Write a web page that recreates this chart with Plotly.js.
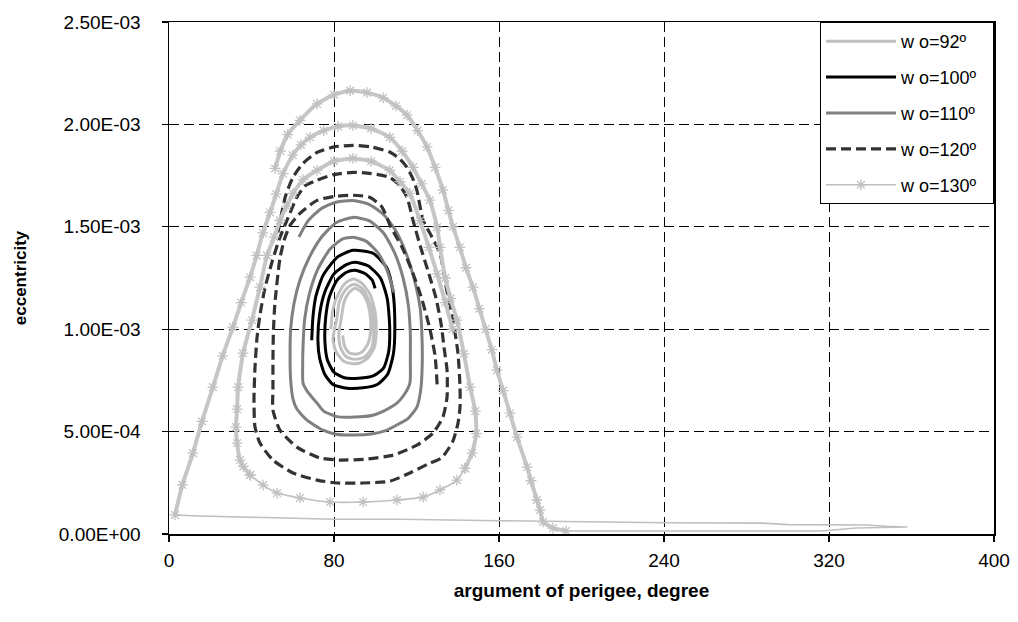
<!DOCTYPE html>
<html><head><meta charset="utf-8">
<script src="https://cdn.plot.ly/plotly-3.0.1.min.js"></script>
<style>html,body{margin:0;padding:0;background:#fff}#chart{width:1018px;height:622px}</style>
</head><body><div id="chart"></div>
<script>
// eccentricity values are written in units of 1e-3
const E_UNIT = 1e-3;

// argument of perigee ticks
const xTicks = [0, 80, 160, 240, 320, 400];
const yTickVals = [0, 5e-4, 1e-3, 1.5e-3, 2e-3, 2.5e-3];
const yTickText = ['0.00E+00', '5.00E-04', '1.00E-03', '1.50E-03', '2.00E-03', '2.50E-03'];
const seriesNames = ['w o=92º', 'w o=100º', 'w o=110º', 'w o=120º', 'w o=130º'];

// wo = 92
const w92 = [78.5,79.5,82.5,86,89.5,93.5,97.5,100,100.5,99.5,96.5,92.5,88.5,84.5,81,79.5,
  81.5,82.5,85,87.5,90,93.5,96.5,98.8,99.3,98.3,95.5,92,88.5,85.5,83.2,82.3,
  83.8,84.8,87,90,93,95.8,97.5,97.8,96.5,93.8,90.5,87.3,85.2,84.2];
const e92 = [1.00,1.10,1.18,1.23,1.245,1.225,1.17,1.08,0.99,0.91,0.86,0.835,0.832,0.845,0.89,0.95,
  1.06,1.13,1.185,1.21,1.22,1.20,1.15,1.07,0.98,0.91,0.87,0.855,0.855,0.87,0.91,0.97,
  1.07,1.13,1.175,1.20,1.185,1.14,1.07,0.99,0.93,0.89,0.878,0.885,0.915,0.97];

// wo = 100
const w100 = [69.2,69.8,71.2,74.7,81.5,89.2,98.9,105.7,108.6,109.5,108.8,106,101,94,86.3,79.5,75.5,73,72.2,
  73,75.5,80,86,90,96.5,102.5,105.8,107,106.5,104,99,92,85,80,76.8,75.6,
  76,77.8,81.5,86,90,95,98.5,99.9];
const e100 = [0.946,1.06,1.16,1.263,1.351,1.385,1.371,1.298,1.18,1.02,0.88,0.78,0.73,0.714,0.712,0.73,0.78,0.86,0.946,
  1.07,1.18,1.27,1.315,1.327,1.31,1.25,1.15,1.01,0.89,0.81,0.772,0.761,0.763,0.79,0.85,0.94,
  1.06,1.16,1.24,1.278,1.288,1.272,1.24,1.199];

// wo = 110
const w110 = [63,67.5,74,81,89.2,97,104,110,115,119,121.8,122.7,122.7,122,120.2,116,112,105,98.9,90,
  81,74.7,66.9,62,60.1,59,58.7,59,60.5,63.5,68,74,81,89.2,97,104,109.5,113.5,116,117,
  117,116.8,114,110.5,104,98.9,90,81.5,75,71.8,67.5,65,64.8,65,65.8,68,72,78,84,89.2,
  95.5,101.5,106,109];
const e110 = [1.45,1.53,1.59,1.62,1.628,1.61,1.56,1.48,1.37,1.24,1.10,0.95,0.80,0.70,0.62,0.565,0.541,0.505,0.49,0.483,
  0.487,0.507,0.556,0.61,0.66,0.75,0.87,1.0,1.12,1.24,1.35,1.45,1.52,1.546,1.53,1.47,1.37,1.25,1.12,0.98,
  0.85,0.737,0.68,0.639,0.60,0.58,0.571,0.573,0.60,0.639,0.69,0.737,0.82,0.92,1.05,1.17,1.29,1.39,1.44,1.449,
  1.43,1.37,1.28,1.18];

// wo = 120
const w120 = [52.8,54.5,56.5,60,65,71.8,80,89.2,98,107,112,115.4,118,120.2,123.2,127.5,131.4,134.5,137.7,140.1,
  141.1,141.1,140.1,137.5,132,126.5,116.8,107.2,94.1,81.5,71.8,60.1,50.4,44.1,41.7,41.2,41.7,42.7,44.1,46.5,
  50,53.5,57.2,62,66,71.8,80,89.2,98,107,112,115.4,118.3,122,126,129.5,132,133.5,134.8,134.8,
  132.8,128,120.2,108.6,96,82.9,73.2,62,53.8,50.4,50.4,50.4,50.6,51.3,53.8,56,58.7,63.5,71.8,80,
  89.2,97,103,107.5,113,118,122.5,126.5,129,130];
const e120 = [1.473,1.56,1.65,1.74,1.81,1.863,1.89,1.898,1.89,1.865,1.83,1.79,1.74,1.678,1.532,1.45,1.37,1.2,1.044,0.883,
  0.717,0.62,0.54,0.45,0.37,0.346,0.298,0.258,0.249,0.249,0.263,0.298,0.361,0.444,0.522,0.654,0.815,0.961,1.07,1.2,
  1.33,1.44,1.532,1.644,1.70,1.727,1.755,1.766,1.76,1.741,1.70,1.644,1.532,1.40,1.27,1.15,1.02,0.90,0.80,0.668,
  0.571,0.493,0.434,0.385,0.366,0.361,0.371,0.424,0.507,0.605,0.717,0.85,0.98,1.12,1.346,1.44,1.507,1.566,1.629,1.648,
  1.654,1.645,1.60,1.50,1.40,1.28,1.15,1.0,0.87,0.73];

// wo = 130 (pieces of one trajectory)
const w130top = [51.4,54,57.5,63.5,71.8,80,87.8,96,103.8,110,115.4,120.5,125.1,129,132.8,135.5,137.7,141,144,147.4,
  150.5,153.5,156.5,159,162,165.3,168.7,173.6,175.5,178.4,179.9,181.3,186.2,192.5];
const e130top = [1.785,1.87,1.95,2.02,2.10,2.145,2.165,2.155,2.13,2.09,2.045,1.97,1.89,1.79,1.68,1.58,1.50,1.40,1.30,1.205,
  1.10,1.00,0.90,0.80,0.70,0.59,0.473,0.327,0.26,0.166,0.117,0.059,0.029,0.015];
const w130floor = [192.5,250,315.6,325,333,358,348,338,300,288,240,160,112,80,40,15,2.9];
const e130floor = [0.015,0.015,0.015,0.022,0.029,0.034,0.037,0.044,0.046,0.053,0.055,0.065,0.072,0.072,0.081,0.088,0.093];
const w130outer = [2.9,6.5,11.6,16,21.3,26,31,35,39.3,42.5,45.5,49,52,55.3,60,64,68.4,75,82,89.2,
  98,107,113,118.3,122.5,126.5,130,131.4,134,136.5,139.6,143,146,148.5,149,147,143.5];
const e130outer = [0.093,0.24,0.395,0.55,0.717,0.87,1.01,1.13,1.254,1.36,1.47,1.57,1.66,1.76,1.85,1.90,1.937,1.97,1.99,1.995,
  1.98,1.937,1.87,1.79,1.71,1.63,1.498,1.40,1.25,1.15,1.044,0.88,0.717,0.60,0.49,0.395,0.32];
const w130bottom = [143.5,139.6,131.4,123.2,110.5,94.1,78.1,63.5,52.4,45.6,39.3];
const e130bottom = [0.32,0.263,0.215,0.18,0.166,0.156,0.156,0.176,0.20,0.239,0.288];
const w130inner = [39.3,36,34.4,33,32.5,33,33.5,35.9,40.2,44.1,47.5,51,53.8,57,60.1,65,71.8,80,89.2,98,
  107,112,116.8,121.7,126,130,134,137.5];
const e130inner = [0.288,0.33,0.361,0.444,0.522,0.61,0.717,0.883,1.044,1.205,1.36,1.45,1.532,1.60,1.663,1.73,1.776,1.82,1.834,1.82,
  1.776,1.72,1.663,1.53,1.40,1.27,1.13,1.0];

const toE = a => a.map(v => v * E_UNIT);
const LG = '#c0c0c0';
const star = {symbol: 'asterisk-open', size: 9, color: LG, line: {color: LG, width: 1.3}};
const band = {color: '#c6c6c6', width: 4, shape: 'spline', smoothing: 0.5};

function line(x, e, opt) {
  return Object.assign({type: 'scatter', x: x, y: toE(e), mode: 'lines', hoverinfo: 'skip'}, opt);
}

const pad = '\u00a0\u00a0';
const traces = [
  line(w92, e92, {name: seriesNames[0] + pad, legendgroup: 'a', line: {color: '#c0c0c0', width: 3, shape: 'spline', smoothing: 0.6}}),
  line(w100, e100, {name: seriesNames[1] + pad, legendgroup: 'b', line: {color: '#000000', width: 3, shape: 'spline', smoothing: 0.6}}),
  line(w110, e110, {name: seriesNames[2] + pad, legendgroup: 'c', line: {color: '#808080', width: 3, shape: 'spline', smoothing: 0.6}}),
  line(w120, e120, {name: seriesNames[3] + pad, legendgroup: 'd', line: {color: '#333333', width: 3.2, dash: '10px,5px', shape: 'spline', smoothing: 0.6}}),
  line(w130top, e130top, {showlegend: false, mode: 'lines+markers', line: band, marker: star}),
  line(w130floor, e130floor, {showlegend: false, line: {color: LG, width: 1.6}}),
  line(w130outer, e130outer, {showlegend: false, mode: 'lines+markers', line: band, marker: star}),
  line(w130inner, e130inner, {showlegend: false, mode: 'lines+markers', line: band, marker: star}),
  line(w130bottom, e130bottom, {name: seriesNames[4] + pad, legendgroup: 'e', mode: 'lines+markers', line: {color: LG, width: 1.6, shape: 'spline', smoothing: 0.5}, marker: star})
];

const FONT = 'Liberation Sans, Arial, sans-serif';
const grid = {showgrid: true, gridcolor: '#000', gridwidth: 1, griddash: '10px,5px', zeroline: false,
  showline: true, linecolor: '#000', linewidth: 1.5, mirror: true, ticks: 'outside', ticklen: 6, tickcolor: '#000', tickwidth: 1.2,
  tickfont: {family: FONT, size: 19, color: '#000'}};

const layout = {
  width: 1018, height: 622,
  margin: {l: 169, r: 24, t: 22, b: 88},
  paper_bgcolor: '#fff', plot_bgcolor: '#fff',
  showlegend: true,
  xaxis: Object.assign({}, grid, {range: [0, 400], tickvals: xTicks, ticklabelstandoff: 3,
    title: {text: '<b>argument of perigee, degree</b>', font: {family: FONT, size: 19, color: '#000'}, standoff: 13}}),
  yaxis: Object.assign({}, grid, {range: [0, 2.5e-3], tickvals: yTickVals, ticktext: yTickText, ticklabelstandoff: 17,
    title: {text: '<b>eccentricity</b>', font: {family: FONT, size: 17, color: '#000'}, standoff: 28}}),
  legend: {x: 1, xanchor: 'right', y: 1, yanchor: 'top', bgcolor: '#fff', bordercolor: '#000', borderwidth: 1,
    font: {family: FONT, size: 18, color: '#000'}, itemwidth: 70, tracegroupgap: 9.5, traceorder: 'grouped'}
};

Plotly.newPlot('chart', traces, layout, {staticPlot: true, displayModeBar: false});
</script>
</body></html>
